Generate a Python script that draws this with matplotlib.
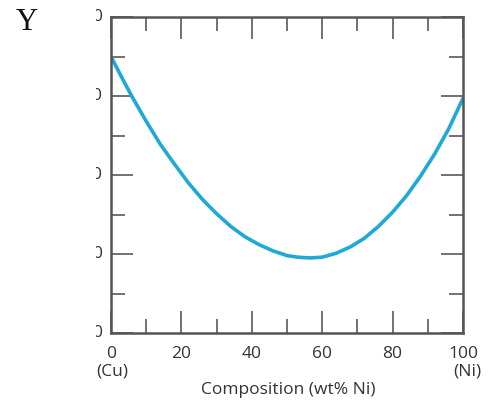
import matplotlib.pyplot as plt
import matplotlib.transforms as mtransforms
from matplotlib.ticker import MultipleLocator

# composition (wt% Ni) and property values
comp = [0, 3, 6, 10, 14, 18, 22, 26, 30, 34, 38, 42, 46, 50, 53, 56.5,
        60, 64, 68, 72, 76, 80, 84, 88, 92, 96, 100]
prop = [55.0, 52.4, 49.9, 46.8, 43.9, 41.4, 39.0, 36.9, 35.1, 33.5, 32.2,
        31.2, 30.4, 29.8, 29.6, 29.5, 29.6, 30.1, 30.9, 32.0, 33.5, 35.3,
        37.4, 39.9, 42.7, 45.9, 49.7]

xticks = [0, 20, 40, 60, 80, 100]
xtick_labels = ["0", "20", "40", "60", "80", "100"]
yticks = [20, 30, 40, 50, 60]
ytick_labels = ["20", "30", "40", "50", "60"]

plt.rcParams['font.family'] = ['Open Sans', 'DejaVu Sans']
fs = 12.5

fig = plt.figure(figsize=(4.94, 4.0), dpi=100)
ax = fig.add_axes([111 / 494, 67 / 400, 352 / 494, 316 / 400])

ax.plot(comp, prop, color='#1fa9d6', lw=2.6, solid_capstyle='round',
        solid_joinstyle='round')

ax.set_xlim(0, 100)
ax.set_ylim(20, 60)
ax.set_xticks(xticks)
ax.set_xticklabels(xtick_labels, fontsize=fs, color='#333333')
ax.xaxis.set_minor_locator(MultipleLocator(10))
ax.yaxis.set_minor_locator(MultipleLocator(5))
ax.set_yticks(yticks)
ax.set_yticklabels([])

ax.tick_params(which='major', direction='in', length=16, width=1.3,
               color='#666666', top=True, right=True, pad=9)
ax.tick_params(which='minor', direction='in', length=10, width=1.3,
               color='#666666', top=True, right=True)
for sp in ax.spines.values():
    sp.set_color('#555555')
    sp.set_linewidth(1.8)

# y labels are cut off at the left edge of the picture
trans = mtransforms.blended_transform_factory(fig.transFigure, ax.transData)
clip = mtransforms.TransformedBbox(
    mtransforms.Bbox([[96 / 494, 0], [1, 1]]), fig.transFigure)
for v, s in zip(yticks, ytick_labels):
    t = fig.text(103 / 494, v, s, transform=trans, ha='right', va='center',
                 fontsize=fs, color='#333333')
    t.set_clip_box(clip)
    t.set_clip_on(True)

fig.text(96 / 494, 1 - 372 / 400, "(Cu)", ha='left', va='center',
         fontsize=fs, color='#333333')
fig.text(481 / 494, 1 - 372 / 400, "(Ni)", ha='right', va='center',
         fontsize=fs, color='#333333')
fig.text(288 / 494, 1 - 390 / 400, "Composition (wt% Ni)", ha='center',
         va='center', fontsize=fs, color='#333333')

fig.text(16 / 494, 1 - 23 / 400, "Y", ha='left', va='center', fontsize=22,
         family=['Liberation Serif', 'DejaVu Serif'], color='#111111')

fig.savefig('out.png', dpi=100)
